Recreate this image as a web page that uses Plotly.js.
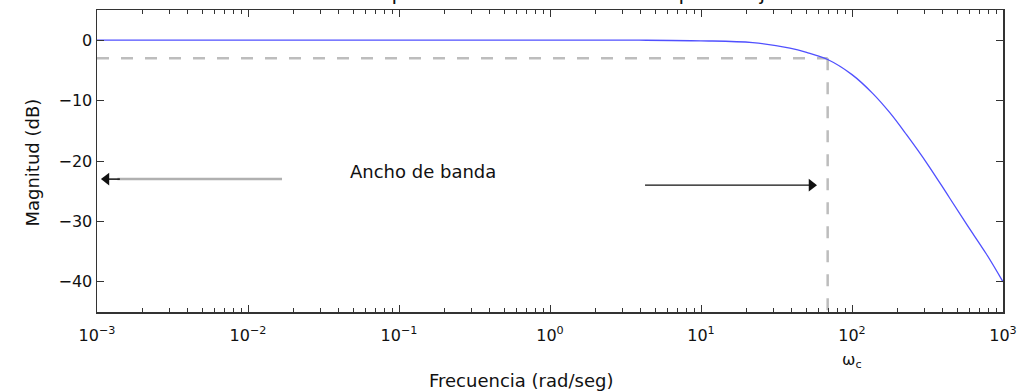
<!DOCTYPE html>
<html>
<head>
<meta charset="utf-8">
<script src="https://cdn.plot.ly/plotly-3.0.1.min.js"></script>
<style>html,body{margin:0;padding:0;background:#fff;}#chart{width:1026px;height:392px;}</style>
</head>
<body>
<div id="chart"></div>
<script>
// Magnitude curve (rad/seg, dB)
const freq  = [0.001, 0.01, 0.1, 1, 3.9, 10, 22, 38.8, 50, 69, 100, 137, 178, 229, 316, 427, 575, 776, 1000];
const magDb = [0, 0, 0, 0, 0, -0.1, -0.4, -1.3, -2.0, -3.2, -5.7, -8.8, -12, -15.6, -20.5, -25.5, -30.5, -35.4, -40];

// Cut-off (bandwidth) point
const wc = 69;
const cutoffDb = -3;
const yBottom = -45;
const yTop = 5;
const xMin = 0.001;
const xMax = 1000;

// Tick labels
const xTickVals = [0.001, 0.01, 0.1, 1, 10, 100, 1000];
const xTickText = ['10<sup>−3</sup>', '10<sup>−2</sup>', '10<sup>−1</sup>', '10<sup>0</sup>', '10<sup>1</sup>', '10<sup>2</sup>', '10<sup>3</sup>'];
const yTickVals = [0, -10, -20, -30, -40];

// Bandwidth arrows (frequency, dB)
const leftArrowFrom = [0.0168, -23.0];
const leftArrowTo   = [0.00105, -23.0];
const rightArrowFrom = [4.26, -24.0];
const rightArrowTo   = [58, -24.0];
const bandLabelPos = [0.144, -21.7];

const titleText = 'Respuesta en frecuencia de un pasa bajo';
const xLabel = 'Frecuencia (rad/seg)';
const yLabel = 'Magnitud (dB)';
const bandLabel = 'Ancho de banda';
const wcLabel = 'ω<sub>c</sub>';

const L = Math.log10;
const dashColor = '#bdbdbd';

// minor tick positions (2..9 within each decade)
const minorVals = [];
for (let d = L(xMin); d < L(xMax); d++) {
  for (let k = 2; k <= 9; k++) minorVals.push(k * Math.pow(10, d));
}

const traces = [
  {x: [xMin, wc], y: [cutoffDb, cutoffDb], mode: 'lines', line: {color: dashColor, width: 2.5, dash: '12px,12px'}, hoverinfo: 'skip'},
  {x: [wc, wc], y: [cutoffDb, yBottom], mode: 'lines', line: {color: dashColor, width: 2.5, dash: '12px,12px'}, hoverinfo: 'skip'},
  {x: freq, y: magDb, mode: 'lines', line: {color: '#5050ff', width: 1.3, shape: 'spline', smoothing: 1}},
  // left arrow: grey shaft, black head
  {x: [leftArrowFrom[0], leftArrowTo[0] * 1.3], y: [leftArrowFrom[1], leftArrowTo[1]], mode: 'lines', line: {color: '#b0b0b0', width: 2.5}, hoverinfo: 'skip'},
  {x: [leftArrowTo[0] * 1.35, leftArrowTo[0] * 1.1], y: [leftArrowTo[1], leftArrowTo[1]], mode: 'lines', line: {color: '#111', width: 1.5}, hoverinfo: 'skip'},
  {x: [leftArrowTo[0] * 1.1], y: [leftArrowTo[1]], mode: 'markers', marker: {symbol: 'triangle-left', size: 11, color: '#111'}, hoverinfo: 'skip'},
  // right arrow: black shaft and head
  {x: [rightArrowFrom[0], rightArrowTo[0] * 0.92], y: [rightArrowFrom[1], rightArrowTo[1]], mode: 'lines', line: {color: '#111', width: 1.3}, hoverinfo: 'skip'},
  {x: [rightArrowTo[0] * 0.93], y: [rightArrowTo[1]], mode: 'markers', marker: {symbol: 'triangle-right', size: 11, color: '#111'}, hoverinfo: 'skip'}
];

const axisCommon = {
  showline: true, linecolor: '#333', linewidth: 1.5, mirror: 'ticks',
  ticks: 'inside', ticklen: 7, tickcolor: '#333', tickwidth: 1,
  showgrid: false, zeroline: false,
  tickfont: {family: 'DejaVu Sans', size: 16, color: '#111'}
};

const layout = {
  width: 1026, height: 392,
  margin: {l: 97, r: 23, t: 10, b: 80},
  paper_bgcolor: '#fff', plot_bgcolor: '#fff',
  showlegend: false,
  font: {family: 'DejaVu Sans', color: '#111'},
  title: {text: titleText, font: {family: 'DejaVu Sans', size: 20.5, color: '#111'},
          x: 0.518, xref: 'paper', xanchor: 'center', y: 1, yref: 'container', yanchor: 'bottom'},
  xaxis: Object.assign({}, axisCommon, {
    type: 'log', range: [L(xMin), L(xMax)],
    tickmode: 'array', tickvals: xTickVals, ticktext: xTickText,
    ticklabelstandoff: 8,
    minor: {ticks: 'inside', ticklen: 4, tickcolor: '#333', tickmode: 'array', tickvals: minorVals, showgrid: false}
  }),
  yaxis: Object.assign({}, axisCommon, {
    range: [yBottom, yTop], tickmode: 'array', tickvals: yTickVals
  }),
  annotations: [
    {xref: 'x', yref: 'y', x: L(bandLabelPos[0]), y: bandLabelPos[1], text: bandLabel, showarrow: false,
     font: {family: 'DejaVu Sans', size: 18, color: '#111'}},
    {xref: 'x', yref: 'paper', x: L(100), y: -0.159, text: wcLabel, showarrow: false, xanchor: 'center', yanchor: 'middle',
     font: {family: 'DejaVu Sans', size: 16, color: '#111'}},
    {xref: 'paper', yref: 'paper', x: 0.468, y: -0.228, text: xLabel, showarrow: false, xanchor: 'center', yanchor: 'middle',
     font: {family: 'DejaVu Sans', size: 18, color: '#111'}},
    {xref: 'paper', yref: 'paper', x: -0.0717, y: 0.495, text: yLabel, showarrow: false, textangle: -90, xanchor: 'center', yanchor: 'middle',
     font: {family: 'DejaVu Sans', size: 18, color: '#111'}}
  ]
};

Plotly.newPlot('chart', traces, layout, {displayModeBar: false, staticPlot: true});
</script>
</body>
</html>
